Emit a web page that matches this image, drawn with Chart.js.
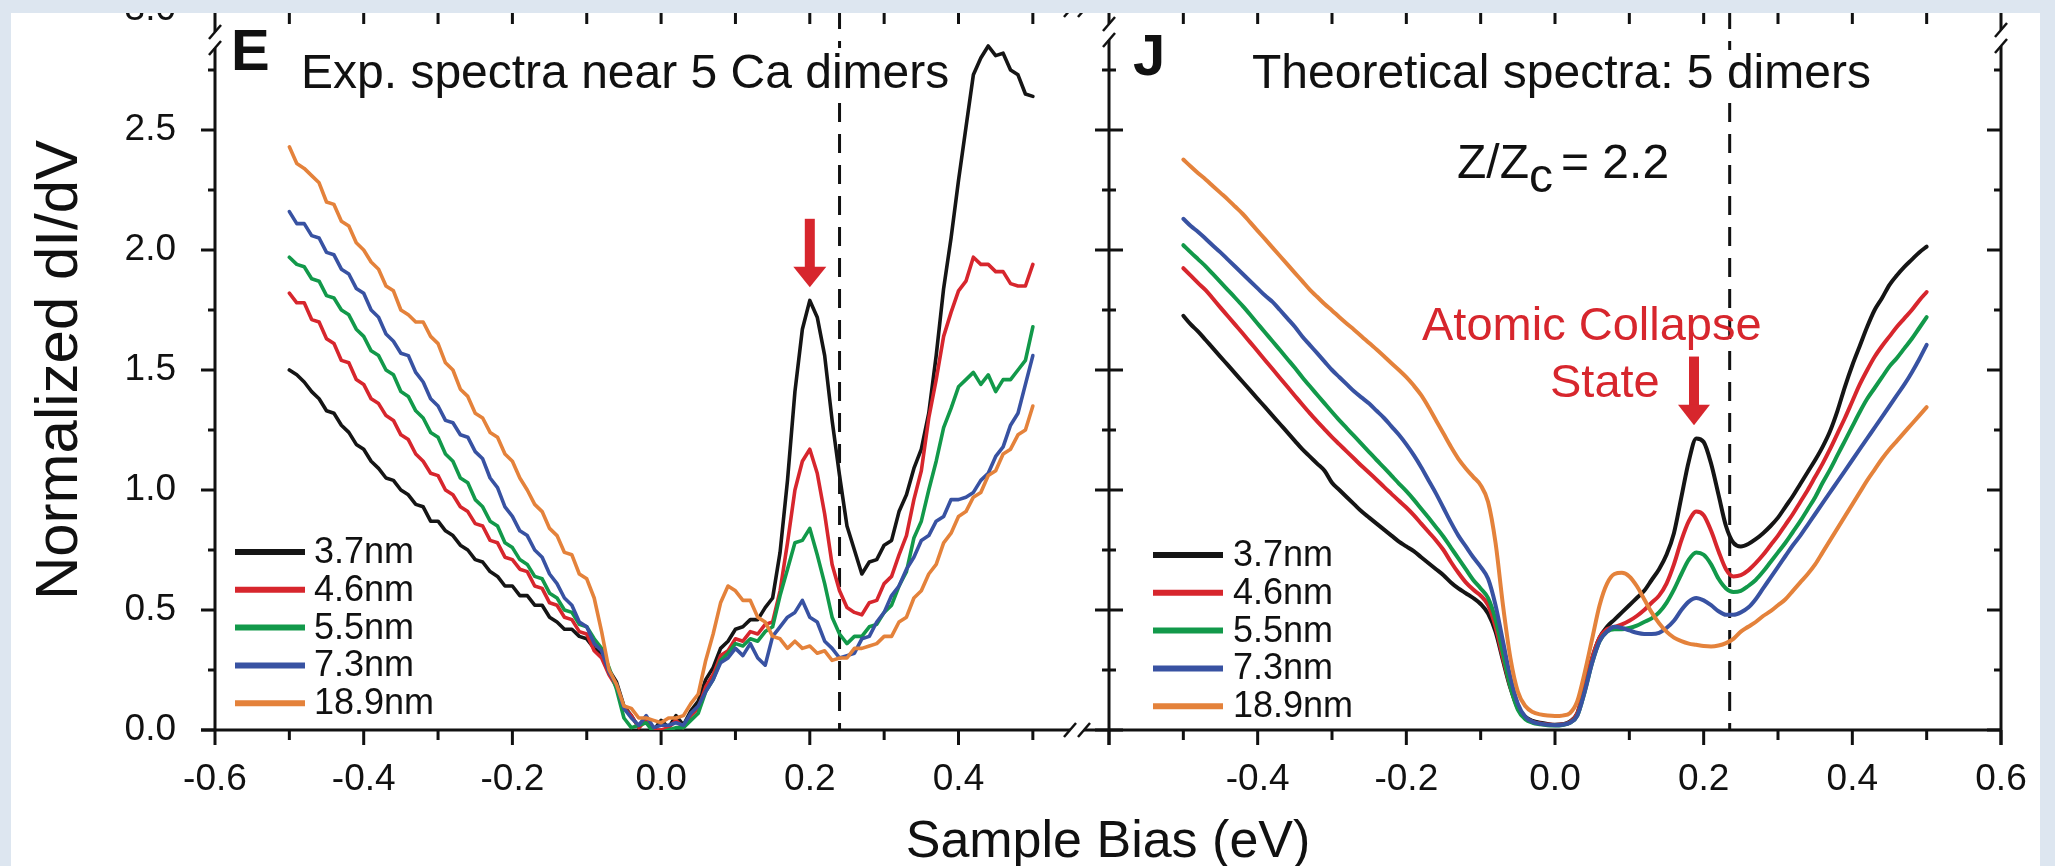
<!DOCTYPE html>
<html>
<head>
<meta charset="utf-8">
<script src="https://cdn.jsdelivr.net/npm/chart.js@4.4.1/dist/chart.umd.min.js"></script>
<style>
  html, body { margin: 0; padding: 0; }
  body { width: 2055px; height: 866px; background: #dde6f0; overflow: hidden; position: relative; }
  #paper { position: absolute; left: 11px; top: 13px; width: 2029px; height: 853px; background: #fff; overflow: hidden; }
  #paper canvas { position: absolute; left: -11px; top: -13px; }
</style>
</head>
<body>
<div id="paper">
  <canvas id="expChart" width="2055" height="866"></canvas>
  <canvas id="theoryChart" width="2055" height="866"></canvas>
</div>
<script>
// sample bias grid (eV), shared by both panels
const bias = [
  -0.50,-0.49,-0.48,-0.47,-0.46,-0.45,-0.44,-0.43,-0.42,-0.41,
  -0.40,-0.39,-0.38,-0.37,-0.36,-0.35,-0.34,-0.33,-0.32,-0.31,
  -0.30,-0.29,-0.28,-0.27,-0.26,-0.25,-0.24,-0.23,-0.22,-0.21,
  -0.20,-0.19,-0.18,-0.17,-0.16,-0.15,-0.14,-0.13,-0.12,-0.11,
  -0.10,-0.09,-0.08,-0.07,-0.06,-0.05,-0.04,-0.03,-0.02,-0.01,
   0.00, 0.01, 0.02, 0.03, 0.04, 0.05, 0.06, 0.07, 0.08, 0.09,
   0.10, 0.11, 0.12, 0.13, 0.14, 0.15, 0.16, 0.17, 0.18, 0.19,
   0.20, 0.21, 0.22, 0.23, 0.24, 0.25, 0.26, 0.27, 0.28, 0.29,
   0.30, 0.31, 0.32, 0.33, 0.34, 0.35, 0.36, 0.37, 0.38, 0.39,
   0.40, 0.41, 0.42, 0.43, 0.44, 0.45, 0.46, 0.47, 0.48, 0.49,
   0.50
];

const seriesLabels = ['3.7nm', '4.6nm', '5.5nm', '7.3nm', '18.9nm'];
const seriesColors = ['#151515', '#d7262d', '#12994a', '#3852a2', '#e4823b'];

// panel E: experimental spectra
const expBlack = [
  1.50,1.48,1.45,1.41,1.38,1.33,1.32,1.27,1.24,1.19,
  1.17,1.12,1.09,1.05,1.04,1.00,0.98,0.94,0.93,0.87,
  0.87,0.83,0.81,0.77,0.75,0.71,0.70,0.66,0.64,0.60,
  0.60,0.56,0.56,0.52,0.52,0.47,0.45,0.42,0.42,0.39,
  0.38,0.34,0.32,0.25,0.20,0.10,0.06,0.01,0.05,0.00,
  0.04,0.01,0.06,0.02,0.08,0.12,0.21,0.26,0.34,0.37,
  0.42,0.43,0.46,0.46,0.51,0.55,0.74,1.04,1.41,1.67,
  1.79,1.72,1.56,1.29,1.06,0.85,0.75,0.65,0.70,0.71,
  0.77,0.79,0.91,0.98,1.09,1.17,1.32,1.56,1.84,2.05,
  2.29,2.51,2.73,2.80,2.85,2.81,2.82,2.75,2.73,2.65,
  2.64
];
const expRed = [
  1.82,1.78,1.78,1.71,1.70,1.63,1.61,1.54,1.53,1.46,
  1.44,1.38,1.36,1.31,1.29,1.23,1.21,1.15,1.12,1.07,
  1.06,1.00,0.98,0.93,0.91,0.86,0.85,0.79,0.78,0.72,
  0.71,0.67,0.66,0.60,0.59,0.53,0.52,0.47,0.46,0.41,
  0.40,0.33,0.30,0.23,0.18,0.09,0.06,0.01,0.04,0.00,
  0.00,0.01,0.04,0.01,0.06,0.09,0.18,0.23,0.31,0.33,
  0.38,0.37,0.41,0.40,0.44,0.45,0.58,0.78,1.00,1.12,
  1.17,1.07,0.90,0.69,0.58,0.51,0.49,0.48,0.53,0.54,
  0.61,0.64,0.73,0.81,0.96,1.08,1.30,1.46,1.64,1.74,
  1.83,1.87,1.97,1.94,1.94,1.91,1.91,1.86,1.85,1.85,
  1.94
];
const expGreen = [
  1.97,1.94,1.93,1.88,1.87,1.81,1.80,1.75,1.73,1.67,
  1.64,1.58,1.56,1.50,1.48,1.41,1.39,1.33,1.30,1.24,
  1.22,1.15,1.12,1.05,1.03,0.96,0.93,0.87,0.85,0.78,
  0.76,0.71,0.69,0.64,0.63,0.57,0.55,0.50,0.49,0.44,
  0.43,0.38,0.34,0.26,0.17,0.05,0.01,0.02,0.03,-0.01,
  -0.01,0.00,0.01,0.01,0.04,0.07,0.16,0.21,0.29,0.32,
  0.36,0.35,0.38,0.37,0.41,0.43,0.56,0.67,0.78,0.79,
  0.84,0.73,0.61,0.47,0.40,0.36,0.39,0.39,0.43,0.44,
  0.49,0.52,0.60,0.66,0.80,0.87,1.00,1.12,1.26,1.34,
  1.43,1.46,1.49,1.44,1.48,1.41,1.46,1.46,1.50,1.54,
  1.68
];
const expBlue = [
  2.16,2.11,2.11,2.06,2.05,1.99,1.98,1.92,1.90,1.84,
  1.82,1.75,1.72,1.65,1.62,1.57,1.56,1.49,1.45,1.38,
  1.35,1.29,1.28,1.23,1.22,1.16,1.13,1.05,1.01,0.93,
  0.89,0.83,0.81,0.75,0.72,0.65,0.61,0.55,0.52,0.45,
  0.43,0.36,0.33,0.24,0.19,0.09,0.05,0.02,0.06,0.01,
  0.02,0.02,0.03,0.02,0.07,0.10,0.16,0.21,0.28,0.30,
  0.34,0.31,0.36,0.30,0.27,0.39,0.43,0.47,0.49,0.54,
  0.47,0.45,0.37,0.34,0.30,0.31,0.32,0.38,0.39,0.45,
  0.49,0.56,0.60,0.67,0.72,0.79,0.81,0.87,0.89,0.96,
  0.96,0.97,0.99,1.04,1.07,1.14,1.18,1.27,1.32,1.44,
  1.56
];
const expOrange = [
  2.43,2.36,2.34,2.31,2.28,2.20,2.19,2.12,2.10,2.03,
  2.00,1.95,1.92,1.85,1.83,1.75,1.73,1.70,1.70,1.64,
  1.61,1.53,1.50,1.42,1.39,1.32,1.30,1.24,1.22,1.15,
  1.12,1.05,1.00,0.94,0.91,0.84,0.81,0.74,0.73,0.65,
  0.63,0.55,0.41,0.25,0.19,0.10,0.09,0.05,0.05,0.04,
  0.03,0.05,0.05,0.06,0.11,0.15,0.29,0.40,0.53,0.60,
  0.58,0.54,0.54,0.47,0.45,0.39,0.38,0.34,0.37,0.34,
  0.35,0.32,0.33,0.29,0.30,0.30,0.34,0.34,0.35,0.36,
  0.39,0.39,0.45,0.47,0.55,0.58,0.65,0.69,0.78,0.82,
  0.89,0.91,0.97,0.99,1.06,1.08,1.15,1.17,1.23,1.25,
  1.35
];

// panel J: theoretical spectra
const thBlack = [
  1.726,1.69,1.66,1.625,1.59,1.555,1.52,1.485,1.45,1.415,
  1.38,1.345,1.31,1.275,1.24,1.205,1.17,1.14,1.11,1.08,
  1.03,1.0,0.97,0.94,0.91,0.885,0.86,0.835,0.81,0.785,
  0.765,0.745,0.72,0.695,0.67,0.645,0.615,0.59,0.57,0.55,
  0.525,0.485,0.41,0.29,0.175,0.095,0.055,0.038,0.03,0.025,
  0.022,0.024,0.035,0.07,0.18,0.30,0.385,0.43,0.46,0.49,
  0.52,0.55,0.58,0.625,0.67,0.73,0.82,0.97,1.12,1.215,
  1.20,1.11,0.98,0.85,0.78,0.765,0.775,0.795,0.82,0.85,
  0.885,0.93,0.975,1.025,1.075,1.125,1.18,1.245,1.33,1.43,
  1.52,1.60,1.68,1.75,1.80,1.855,1.895,1.93,1.96,1.99,
  2.014
];
const thRed = [
  1.924,1.893,1.862,1.833,1.797,1.76,1.724,1.688,1.652,1.615,
  1.578,1.541,1.504,1.467,1.43,1.393,1.356,1.32,1.286,1.253,
  1.22,1.19,1.16,1.13,1.10,1.072,1.043,1.013,0.984,0.955,
  0.927,0.895,0.86,0.825,0.79,0.75,0.70,0.655,0.615,0.585,
  0.56,0.52,0.43,0.30,0.18,0.09,0.05,0.034,0.027,0.023,
  0.021,0.023,0.033,0.07,0.18,0.30,0.385,0.42,0.43,0.44,
  0.455,0.475,0.50,0.53,0.56,0.61,0.69,0.79,0.87,0.91,
  0.895,0.83,0.745,0.67,0.64,0.645,0.665,0.695,0.73,0.77,
  0.81,0.855,0.90,0.95,1.0,1.055,1.11,1.17,1.235,1.30,
  1.37,1.44,1.50,1.555,1.60,1.64,1.68,1.715,1.75,1.79,
  1.825
];
const thGreen = [
  2.02,1.99,1.961,1.932,1.899,1.866,1.833,1.80,1.766,1.73,
  1.693,1.656,1.62,1.583,1.546,1.509,1.47,1.433,1.397,1.361,
  1.325,1.29,1.257,1.224,1.191,1.158,1.125,1.093,1.06,1.027,
  0.995,0.96,0.922,0.884,0.845,0.805,0.76,0.715,0.67,0.625,
  0.59,0.55,0.46,0.32,0.18,0.085,0.045,0.03,0.024,0.02,
  0.019,0.021,0.03,0.06,0.16,0.28,0.37,0.41,0.42,0.42,
  0.425,0.435,0.45,0.465,0.49,0.53,0.585,0.65,0.71,0.74,
  0.73,0.69,0.63,0.59,0.575,0.58,0.60,0.625,0.66,0.70,
  0.74,0.78,0.825,0.87,0.92,0.97,1.03,1.085,1.145,1.205,
  1.265,1.325,1.38,1.425,1.47,1.515,1.55,1.59,1.63,1.675,
  1.72
];
const thBlue = [
  2.13,2.10,2.075,2.047,2.018,1.99,1.96,1.93,1.90,1.87,
  1.84,1.81,1.784,1.75,1.715,1.68,1.64,1.605,1.57,1.535,
  1.50,1.47,1.44,1.41,1.385,1.36,1.33,1.30,1.265,1.23,
  1.19,1.145,1.095,1.04,0.985,0.925,0.865,0.81,0.765,0.72,
  0.68,0.63,0.52,0.37,0.22,0.11,0.055,0.034,0.026,0.022,
  0.02,0.022,0.03,0.06,0.16,0.28,0.37,0.41,0.43,0.425,
  0.415,0.405,0.40,0.40,0.405,0.425,0.455,0.50,0.535,0.55,
  0.54,0.52,0.495,0.48,0.48,0.49,0.51,0.545,0.59,0.635,
  0.68,0.725,0.77,0.81,0.855,0.90,0.945,0.99,1.035,1.08,
  1.125,1.17,1.215,1.26,1.305,1.35,1.395,1.44,1.49,1.545,
  1.605
];
const thOrange = [
  2.377,2.348,2.32,2.294,2.266,2.238,2.21,2.18,2.15,2.115,
  2.08,2.045,2.01,1.975,1.94,1.905,1.87,1.835,1.805,1.775,
  1.748,1.72,1.693,1.667,1.64,1.612,1.585,1.557,1.528,1.50,
  1.47,1.435,1.395,1.345,1.29,1.235,1.18,1.13,1.09,1.055,
  1.02,0.95,0.78,0.52,0.30,0.16,0.10,0.075,0.065,0.06,
  0.058,0.06,0.07,0.12,0.24,0.38,0.52,0.61,0.65,0.655,
  0.64,0.60,0.545,0.49,0.445,0.41,0.385,0.37,0.36,0.355,
  0.35,0.348,0.352,0.362,0.38,0.41,0.43,0.45,0.475,0.495,
  0.52,0.545,0.58,0.615,0.65,0.69,0.74,0.79,0.84,0.89,
  0.94,0.99,1.04,1.085,1.13,1.17,1.205,1.24,1.275,1.31,
  1.345
];

// axis ticks
const yLabelTicks = [0.0, 0.5, 1.0, 1.5, 2.0, 2.5, 3.0];
const yMinorTicks = [0.25, 0.75, 1.25, 1.75, 2.25, 2.75];
const expXLabels = [-0.6, -0.4, -0.2, 0.0, 0.2, 0.4];
const theoryXLabels = [-0.4, -0.2, 0.0, 0.2, 0.4, 0.6];
const xMajorTicks = [-0.6, -0.4, -0.2, 0.0, 0.2, 0.4, 0.6];
const xMinorTicks = [-0.5, -0.3, -0.1, 0.1, 0.3, 0.5];
const topTicks = [-0.5, -0.4, -0.3, -0.2, -0.1, 0.0, 0.1, 0.2, 0.3, 0.4, 0.5];

// annotations (data units)
const expDashX = 0.24;
const theoryDashX = 0.235;
const expArrow = { x: 0.2, from: 2.13, head: 1.93, tip: 1.845 };
const theoryArrow = { x: 0.187, from: 1.556, head: 1.355, tip: 1.27 };

const INK = '#111';
const RED = '#d7262d';
const FONT = "'Liberation Sans', Arial, Helvetica, sans-serif";
Chart.defaults.font.family = FONT;
Chart.defaults.color = INK;

function line(ctx, x1, y1, x2, y2) {
  ctx.beginPath();
  ctx.moveTo(x1, y1);
  ctx.lineTo(x2, y2);
  ctx.stroke();
}

// "//" across a vertical axis
function breakOnY(ctx, x, yc) {
  ctx.save();
  ctx.fillStyle = '#fff';
  ctx.fillRect(x - 3, yc - 8, 6, 16);
  ctx.strokeStyle = INK;
  ctx.lineWidth = 2.5;
  line(ctx, x - 6, yc - 1, x + 6, yc - 15);
  line(ctx, x - 6, yc + 15, x + 6, yc + 1);
  ctx.restore();
}

// "//" across a horizontal axis
function breakOnX(ctx, xc, y) {
  ctx.save();
  ctx.strokeStyle = INK;
  ctx.lineWidth = 2.5;
  line(ctx, xc - 13, y + 7, xc - 1, y - 7);
  line(ctx, xc + 1, y + 7, xc + 13, y - 7);
  ctx.restore();
}

function drawArrow(ctx, x, yFrom, yHead, yTip, shaftW, headW) {
  ctx.save();
  ctx.fillStyle = RED;
  ctx.fillRect(x - shaftW / 2, yFrom, shaftW, yHead - yFrom + 1);
  ctx.beginPath();
  ctx.moveTo(x - headW / 2, yHead);
  ctx.lineTo(x + headW / 2, yHead);
  ctx.lineTo(x, yTip);
  ctx.closePath();
  ctx.fill();
  ctx.restore();
}

function drawLegend(chart, x0, x1, tx, y0) {
  const ctx = chart.ctx;
  ctx.save();
  chart.data.datasets.forEach((ds, i) => {
    const yy = y0 + i * 37.8;
    ctx.strokeStyle = ds.borderColor;
    ctx.lineWidth = 6;
    line(ctx, x0, yy, x1, yy);
    ctx.fillStyle = INK;
    ctx.font = '36px ' + FONT;
    ctx.textAlign = 'left';
    ctx.textBaseline = 'middle';
    ctx.fillText(ds.label, tx, yy + 1);
  });
  ctx.restore();
}

function drawTitle(ctx, letter, lx, lby, text, tx, tby, box) {
  ctx.save();
  ctx.fillStyle = '#fff';
  ctx.fillRect(box[0], box[1], box[2] - box[0], box[3] - box[1]);
  ctx.fillStyle = INK;
  ctx.textAlign = 'left';
  ctx.textBaseline = 'alphabetic';
  ctx.font = 'bold 58px ' + FONT;
  ctx.fillText(letter, lx, lby);
  ctx.font = '48px ' + FONT;
  ctx.fillText(text, tx, tby);
  ctx.restore();
}

function makeDatasets(rows, width, smooth) {
  return rows.map((ys, i) => ({
    label: seriesLabels[i],
    data: bias.map((b, k) => ({ x: b, y: ys[k] })),
    borderColor: seriesColors[i],
    borderWidth: width,
    pointRadius: 0,
    fill: false,
    cubicInterpolationMode: smooth ? 'monotone' : 'default',
    tension: 0,
    borderJoinStyle: 'round',
    borderCapStyle: 'round',
    order: 5 - i
  }));
}

const expDecor = {
  id: 'expDecor',
  beforeDatasetsDraw(chart) {
    const { ctx, chartArea: a, scales: { x, y } } = chart;
    const top = y.getPixelForValue(3.0);
    const bot = y.getPixelForValue(0);
    ctx.save();
    ctx.strokeStyle = INK;
    ctx.lineWidth = 3;
    // left axis + outward ticks
    line(ctx, a.left, top, a.left, bot);
    yLabelTicks.forEach(v => line(ctx, a.left - 14, y.getPixelForValue(v), a.left, y.getPixelForValue(v)));
    yMinorTicks.forEach(v => line(ctx, a.left - 7, y.getPixelForValue(v), a.left, y.getPixelForValue(v)));
    // bottom axis, broken on the right
    line(ctx, a.left - 14, bot, 1070, bot);
    xMajorTicks.filter(v => x.getPixelForValue(v) < a.right).forEach(v => {
      const px = x.getPixelForValue(v);
      line(ctx, px, bot, px, bot + 15);
    });
    xMinorTicks.forEach(v => {
      const px = x.getPixelForValue(v);
      line(ctx, px, bot, px, bot + 10);
    });
    // top axis ticks
    line(ctx, a.left, top, 1070, top);
    topTicks.forEach(v => {
      const px = x.getPixelForValue(v);
      line(ctx, px, top, px, top + 14);
    });
    // dashed marker
    ctx.setLineDash([19, 12]);
    const dx = x.getPixelForValue(expDashX);
    line(ctx, dx, top, dx, bot);
    ctx.setLineDash([]);
    ctx.restore();

    breakOnY(ctx, a.left, 40);
    breakOnX(ctx, 1077, bot);
    breakOnX(ctx, 1077, top);

    drawTitle(ctx, 'E', 231, 70, 'Exp. spectra near 5 Ca dimers', 301, 88, [292, 48, 962, 102]);
  },
  afterDatasetsDraw(chart) {
    const { ctx, scales: { x, y } } = chart;
    drawArrow(ctx, x.getPixelForValue(expArrow.x), y.getPixelForValue(expArrow.from),
      y.getPixelForValue(expArrow.head), y.getPixelForValue(expArrow.tip), 10, 33);
    drawLegend(chart, 235, 305, 314, 552);
    // shared x-axis title
    ctx.save();
    ctx.fillStyle = INK;
    ctx.font = '52px ' + FONT;
    ctx.textAlign = 'center';
    ctx.textBaseline = 'alphabetic';
    ctx.fillText('Sample Bias (eV)', 1108, 857);
    ctx.restore();
  }
};

const theoryDecor = {
  id: 'theoryDecor',
  beforeDatasetsDraw(chart) {
    const { ctx, chartArea: a, scales: { x, y } } = chart;
    const top = y.getPixelForValue(3.0);
    const bot = y.getPixelForValue(0);
    ctx.save();
    ctx.strokeStyle = INK;
    ctx.lineWidth = 3;
    // frame
    line(ctx, a.left, top, a.left, bot + 15);
    line(ctx, a.right, top, a.right, bot + 15);
    line(ctx, 1084, bot, a.right, bot);
    line(ctx, 1084, top, a.right, top);
    yLabelTicks.concat(yMinorTicks).forEach(v => {
      const py = y.getPixelForValue(v);
      const len = yLabelTicks.includes(v) ? 14 : 7;
      line(ctx, a.left - len, py, a.left + len, py);
      line(ctx, a.right - len, py, a.right, py);
    });
    xMajorTicks.forEach(v => {
      const px = x.getPixelForValue(v);
      line(ctx, px, bot, px, bot + 15);
    });
    xMinorTicks.forEach(v => {
      const px = x.getPixelForValue(v);
      line(ctx, px, bot, px, bot + 10);
    });
    topTicks.forEach(v => {
      const px = x.getPixelForValue(v);
      line(ctx, px, top, px, top + 14);
    });
    ctx.setLineDash([19, 12]);
    const dx = x.getPixelForValue(theoryDashX);
    line(ctx, dx, top, dx, bot);
    ctx.setLineDash([]);
    ctx.restore();

    breakOnY(ctx, a.left, 32);
    breakOnY(ctx, a.right, 38);

    drawTitle(ctx, 'J', 1133, 75, 'Theoretical spectra: 5 dimers', 1252, 88, [1242, 50, 1890, 102]);

    ctx.save();
    ctx.fillStyle = INK;
    ctx.textAlign = 'left';
    ctx.textBaseline = 'alphabetic';
    ctx.font = '48px ' + FONT;
    ctx.fillText('Z/Z', 1457, 178);
    ctx.fillText('c', 1529, 192);
    ctx.fillText('= 2.2', 1561, 178);
    ctx.fillStyle = RED;
    ctx.font = '47px ' + FONT;
    ctx.fillText('Atomic Collapse', 1422, 340);
    ctx.fillText('State', 1550, 397);
    ctx.restore();
  },
  afterDatasetsDraw(chart) {
    const { ctx, scales: { x, y } } = chart;
    drawArrow(ctx, x.getPixelForValue(theoryArrow.x), y.getPixelForValue(theoryArrow.from),
      y.getPixelForValue(theoryArrow.head), y.getPixelForValue(theoryArrow.tip), 10, 32);
    drawLegend(chart, 1153, 1223, 1233, 555);
  }
};

const tickFont = { size: 37 };
const fmt = v => Number(v).toFixed(1);

new Chart(document.getElementById('expChart'), {
  type: 'line',
  data: { datasets: makeDatasets([expBlack, expRed, expGreen, expBlue, expOrange], 3.6, false) },
  options: {
    responsive: false,
    animation: false,
    events: [],
    layout: { padding: { left: 0, right: 2055 - 1073, top: 10, bottom: 56 } },
    plugins: { legend: { display: false }, tooltip: { enabled: false } },
    scales: {
      x: {
        type: 'linear', min: -0.6, max: 0.554, bounds: 'data',
        grid: { display: false }, border: { display: false },
        ticks: { font: tickFont, color: INK, padding: 20, maxRotation: 0, autoSkip: false, callback: fmt },
        afterBuildTicks: s => { s.ticks = expXLabels.map(v => ({ value: v })); },
        afterFit: s => { s.height = 80; s.paddingLeft = 0; s.paddingRight = 0; }
      },
      y: {
        type: 'linear', min: 0, max: 3.0, bounds: 'data',
        grid: { display: false }, border: { display: false },
        ticks: { font: tickFont, color: INK, padding: 31, callback: fmt },
        afterBuildTicks: s => { s.ticks = yLabelTicks.map(v => ({ value: v })); },
        afterFit: s => { s.width = 215; s.paddingTop = 0; s.paddingBottom = 0; },
        title: { display: true, text: 'Normalized dI/dV', color: INK, font: { size: 60 }, padding: { top: 24, bottom: 0 } }
      }
    }
  },
  plugins: [expDecor]
});

new Chart(document.getElementById('theoryChart'), {
  type: 'line',
  data: { datasets: makeDatasets([thBlack, thRed, thGreen, thBlue, thOrange], 4, true) },
  options: {
    responsive: false,
    animation: false,
    events: [],
    layout: { padding: { left: 1109, right: 2055 - 2001, top: 10, bottom: 56 } },
    plugins: { legend: { display: false }, tooltip: { enabled: false } },
    scales: {
      x: {
        type: 'linear', min: -0.6, max: 0.6, bounds: 'data',
        grid: { display: false }, border: { display: false },
        ticks: { font: tickFont, color: INK, padding: 20, maxRotation: 0, autoSkip: false, callback: fmt },
        afterBuildTicks: s => { s.ticks = theoryXLabels.map(v => ({ value: v })); },
        afterFit: s => { s.height = 80; s.paddingLeft = 0; s.paddingRight = 0; }
      },
      y: { type: 'linear', min: 0, max: 3.0, display: false }
    }
  },
  plugins: [theoryDecor]
});
</script>
</body>
</html>
